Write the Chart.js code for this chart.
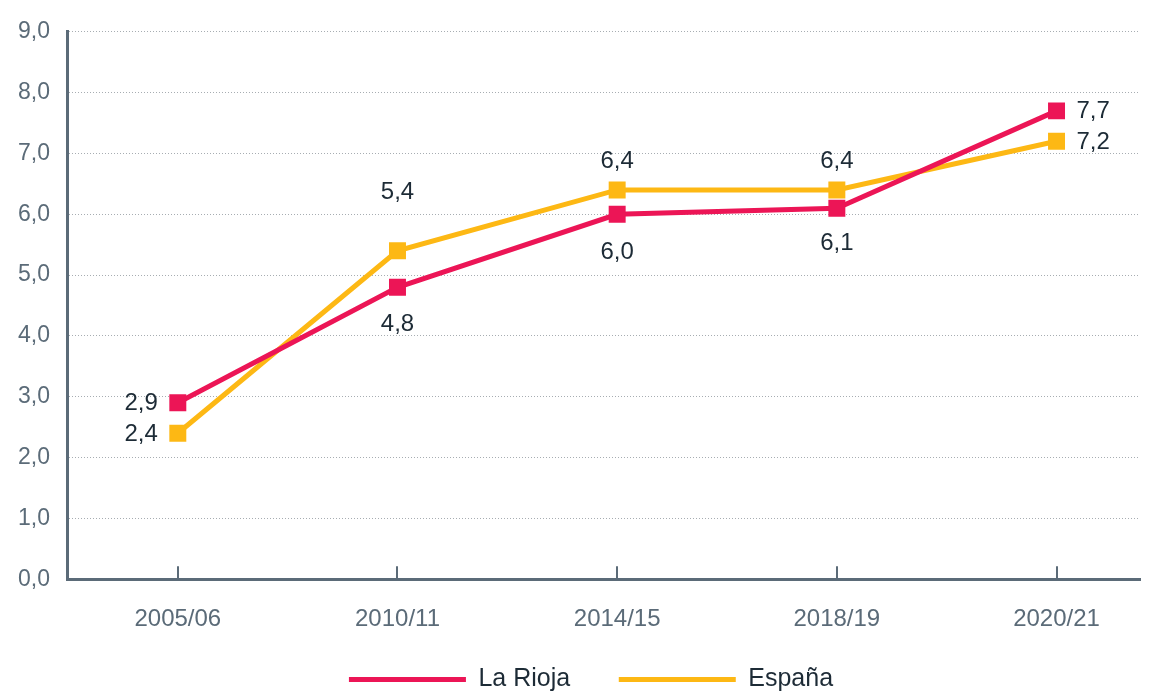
<!DOCTYPE html>
<html>
<head>
<meta charset="utf-8">
<script src="https://cdn.jsdelivr.net/npm/chart.js@4/dist/chart.umd.min.js"></script>
<style>
  html, body { margin: 0; padding: 0; background: #fff; }
  #wrap { position: relative; width: 1156px; height: 691px; }
</style>
</head>
<body>
<div id="wrap"><canvas id="chart"></canvas></div>
<script>
// Values
const categories = ['2005/06', '2010/11', '2014/15', '2018/19', '2020/21'];
const laRioja = [2.9, 4.8, 6.0, 6.1, 7.7];
const espana = [2.4, 5.4, 6.4, 6.4, 7.2];
const yTicks = [0, 1, 2, 3, 4, 5, 6, 7, 8, 9];

// label placement per point: left / below / above / right, with vertical nudge
const rojaPos = ['left', 'below', 'below', 'below', 'right'];
const espPos = ['left', 'above', 'above', 'above', 'right'];
const rojaNudge = [0, 36, 37, 34, 0];
const espNudge = [0, -59, -30, -30, 0];

const RED = '#ec1556';
const YELLOW = '#fdb814';
const AXIS = '#5b6b78';
const TEXT = '#1d2b36';
const FONT = '"Liberation Sans", Arial, sans-serif';

const fmt = v => v.toFixed(1).replace('.', ',');

const pointLabels = {
    id: 'pointLabels',
    afterDatasetsDraw(chart) {
        const ctx = chart.ctx;
        ctx.save();
        ctx.font = '24px ' + FONT;
        ctx.fillStyle = TEXT;
        ctx.textBaseline = 'middle';
        chart.data.datasets.forEach((ds, di) => {
            const meta = chart.getDatasetMeta(di);
            meta.data.forEach((pt, i) => {
                const pos = ds.labelPos[i];
                const txt = fmt(ds.data[i].y);
                let x = pt.x, y = pt.y + ds.labelNudge[i] + 1;
                if (pos === 'left') { ctx.textAlign = 'right'; x -= 20; }
                else if (pos === 'right') { ctx.textAlign = 'left'; x += 20; }
                else { ctx.textAlign = 'center'; }
                ctx.fillText(txt, x, y);
            });
        });
        ctx.restore();
    }
};

// small tick marks pointing up from the x axis
const innerTicks = {
    id: 'innerTicks',
    afterDraw(chart) {
        const ctx = chart.ctx;
        const xs = chart.scales.x;
        const bottom = chart.chartArea.bottom;
        ctx.save();
        ctx.strokeStyle = AXIS;
        ctx.lineWidth = 2;
        categories.forEach((c, i) => {
            const px = Math.round(xs.getPixelForValue(i));
            ctx.beginPath();
            ctx.moveTo(px, bottom);
            ctx.lineTo(px, bottom - 13);
            ctx.stroke();
        });
        ctx.restore();
    }
};

// nudge the legend row a little to the right, as in the reference
const legendShift = {
    id: 'legendShift',
    afterLayout(chart) {
        if (chart.legend) {
            chart.legend.left += 21;
            chart.legend.right += 21;
        }
    }
};

const toPoints = arr => arr.map((v, i) => ({ x: i, y: v }));

new Chart(document.getElementById('chart'), {
    type: 'line',
    data: {
        datasets: [
            {
                label: 'La Rioja',
                data: toPoints(laRioja),
                labelPos: rojaPos,
                labelNudge: rojaNudge,
                borderColor: RED,
                backgroundColor: RED,
                borderWidth: 5,
                pointStyle: 'rect',
                pointRadius: 12,
                pointHoverRadius: 12,
                pointBorderWidth: 0,
                tension: 0,
            },
            {
                label: 'España',
                data: toPoints(espana),
                labelPos: espPos,
                labelNudge: espNudge,
                borderColor: YELLOW,
                backgroundColor: YELLOW,
                borderWidth: 5,
                pointStyle: 'rect',
                pointRadius: 12,
                pointHoverRadius: 12,
                pointBorderWidth: 0,
                tension: 0,
            },
        ],
    },
    options: {
        responsive: true,
        maintainAspectRatio: false,
        animation: false,
        layout: { padding: { top: 20, right: 16, left: 0, bottom: -11 } },
        plugins: {
            tooltip: { enabled: false },
            legend: {
                position: 'bottom',
                labels: {
                    boxWidth: 117,
                    boxHeight: 5,
                    padding: 0,
                    color: TEXT,
                    font: { size: 25, family: FONT },
                    generateLabels(chart) {
                        const n = chart.data.datasets.length;
                        // trailing spaces give the wide gap between legend items
                        return chart.data.datasets.map((ds, i) => ({
                            text: i < n - 1 ? ds.label + '       ' : ds.label,
                            fillStyle: ds.borderColor,
                            strokeStyle: ds.borderColor,
                            lineWidth: 0,
                            fontColor: TEXT,
                            datasetIndex: i,
                        }));
                    },
                },
            },
        },
        scales: {
            x: {
                type: 'linear',
                min: -0.5,
                max: 4.38,
                afterBuildTicks(scale) {
                    scale.ticks = categories.map((c, i) => ({ value: i }));
                },
                afterFit(scale) {
                    scale.height += 7;
                },
                ticks: {
                    callback: v => categories[v],
                    color: AXIS,
                    padding: 26,
                    font: { size: 24, family: FONT },
                    maxRotation: 0,
                },
                grid: { display: false, drawTicks: false },
                border: { display: true, color: AXIS, width: 3 },
            },
            y: {
                min: 0,
                max: 9,
                afterBuildTicks(scale) {
                    scale.ticks = yTicks.map(v => ({ value: v }));
                },
                ticks: {
                    callback: v => fmt(v),
                    color: AXIS,
                    padding: 18,
                    font: { size: 23, family: FONT },
                },
                grid: {
                    color: '#a7adb2',
                    lineWidth: 1,
                    drawTicks: false,
                },
                border: { display: true, color: AXIS, width: 3, dash: [1, 2] },
            },
        },
    },
    plugins: [pointLabels, innerTicks, legendShift],
});
</script>
</body>
</html>
